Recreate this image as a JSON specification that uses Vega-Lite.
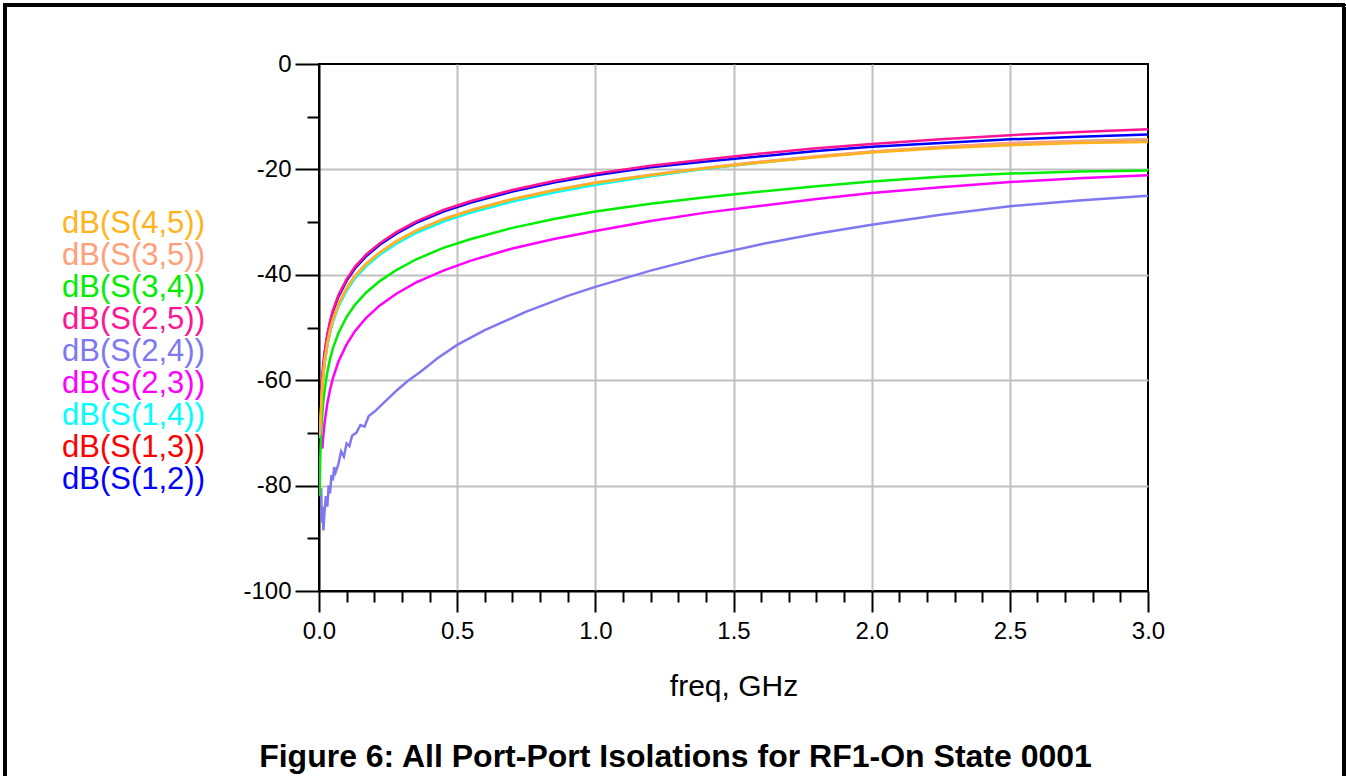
{
  "$schema": "https://vega.github.io/schema/vega-lite/v6.json",
  "width": 829,
  "height": 527,
  "autosize": {"type": "none"},
  "padding": {"left": 319, "top": 64, "right": 198, "bottom": 185},
  "background": "white",
  "config": {"font": "Liberation Sans", "view": {"stroke": "black", "strokeWidth": 2}},
  "title": {"text": "Figure 6: All Port-Port Isolations for RF1-On State 0001", "orient": "bottom", "anchor": "middle", "fontSize": 32, "fontWeight": "bold", "font": "Liberation Sans", "color": "black", "offset": -60, "dx": -58},
  "data": {"values": [
    {"s":"dB(S(1,2))","f":0.008,"v":-63.0},{"s":"dB(S(1,2))","f":0.01,"v":-61.1},{"s":"dB(S(1,2))","f":0.015,"v":-57.6},{"s":"dB(S(1,2))","f":0.02,"v":-55.1},{"s":"dB(S(1,2))","f":0.03,"v":-51.6},{"s":"dB(S(1,2))","f":0.04,"v":-49.1},{"s":"dB(S(1,2))","f":0.05,"v":-47.1},{"s":"dB(S(1,2))","f":0.07,"v":-44.2},{"s":"dB(S(1,2))","f":0.1,"v":-41.1},{"s":"dB(S(1,2))","f":0.13,"v":-38.8},{"s":"dB(S(1,2))","f":0.17,"v":-36.5},{"s":"dB(S(1,2))","f":0.22,"v":-34.3},{"s":"dB(S(1,2))","f":0.28,"v":-32.2},{"s":"dB(S(1,2))","f":0.35,"v":-30.2},{"s":"dB(S(1,2))","f":0.45,"v":-28.0},{"s":"dB(S(1,2))","f":0.55,"v":-26.3},{"s":"dB(S(1,2))","f":0.7,"v":-24.2},{"s":"dB(S(1,2))","f":0.85,"v":-22.5},{"s":"dB(S(1,2))","f":1.0,"v":-21.1},{"s":"dB(S(1,2))","f":1.2,"v":-19.6},{"s":"dB(S(1,2))","f":1.4,"v":-18.5},{"s":"dB(S(1,2))","f":1.6,"v":-17.5},{"s":"dB(S(1,2))","f":1.8,"v":-16.5},{"s":"dB(S(1,2))","f":2.0,"v":-15.7},{"s":"dB(S(1,2))","f":2.25,"v":-15.0},{"s":"dB(S(1,2))","f":2.5,"v":-14.3},{"s":"dB(S(1,2))","f":2.75,"v":-13.8},{"s":"dB(S(1,2))","f":3.0,"v":-13.4},
    {"s":"dB(S(1,3))","f":0.006,"v":-67.5},{"s":"dB(S(1,3))","f":0.01,"v":-62.8},{"s":"dB(S(1,3))","f":0.015,"v":-59.3},{"s":"dB(S(1,3))","f":0.02,"v":-56.8},{"s":"dB(S(1,3))","f":0.03,"v":-53.3},{"s":"dB(S(1,3))","f":0.04,"v":-50.8},{"s":"dB(S(1,3))","f":0.05,"v":-48.8},{"s":"dB(S(1,3))","f":0.07,"v":-45.9},{"s":"dB(S(1,3))","f":0.1,"v":-42.8},{"s":"dB(S(1,3))","f":0.13,"v":-40.5},{"s":"dB(S(1,3))","f":0.17,"v":-38.2},{"s":"dB(S(1,3))","f":0.22,"v":-36.0},{"s":"dB(S(1,3))","f":0.28,"v":-33.9},{"s":"dB(S(1,3))","f":0.35,"v":-31.9},{"s":"dB(S(1,3))","f":0.45,"v":-29.7},{"s":"dB(S(1,3))","f":0.55,"v":-28.0},{"s":"dB(S(1,3))","f":0.7,"v":-25.9},{"s":"dB(S(1,3))","f":0.85,"v":-24.2},{"s":"dB(S(1,3))","f":1.0,"v":-22.8},{"s":"dB(S(1,3))","f":1.2,"v":-21.2},{"s":"dB(S(1,3))","f":1.4,"v":-19.8},{"s":"dB(S(1,3))","f":1.6,"v":-18.6},{"s":"dB(S(1,3))","f":1.8,"v":-17.6},{"s":"dB(S(1,3))","f":2.0,"v":-16.7},{"s":"dB(S(1,3))","f":2.25,"v":-15.8},{"s":"dB(S(1,3))","f":2.5,"v":-15.1},{"s":"dB(S(1,3))","f":2.75,"v":-14.7},{"s":"dB(S(1,3))","f":3.0,"v":-14.4},
    {"s":"dB(S(1,4))","f":0.004,"v":-71.0},{"s":"dB(S(1,4))","f":0.01,"v":-63.0},{"s":"dB(S(1,4))","f":0.015,"v":-59.5},{"s":"dB(S(1,4))","f":0.02,"v":-57.0},{"s":"dB(S(1,4))","f":0.03,"v":-53.5},{"s":"dB(S(1,4))","f":0.04,"v":-51.0},{"s":"dB(S(1,4))","f":0.05,"v":-49.0},{"s":"dB(S(1,4))","f":0.07,"v":-46.1},{"s":"dB(S(1,4))","f":0.1,"v":-43.0},{"s":"dB(S(1,4))","f":0.13,"v":-40.7},{"s":"dB(S(1,4))","f":0.17,"v":-38.4},{"s":"dB(S(1,4))","f":0.22,"v":-36.2},{"s":"dB(S(1,4))","f":0.28,"v":-34.1},{"s":"dB(S(1,4))","f":0.35,"v":-32.1},{"s":"dB(S(1,4))","f":0.45,"v":-29.9},{"s":"dB(S(1,4))","f":0.55,"v":-28.2},{"s":"dB(S(1,4))","f":0.7,"v":-26.1},{"s":"dB(S(1,4))","f":0.85,"v":-24.4},{"s":"dB(S(1,4))","f":1.0,"v":-22.9},{"s":"dB(S(1,4))","f":1.2,"v":-21.3},{"s":"dB(S(1,4))","f":1.4,"v":-19.9},{"s":"dB(S(1,4))","f":1.6,"v":-18.7},{"s":"dB(S(1,4))","f":1.8,"v":-17.6},{"s":"dB(S(1,4))","f":2.0,"v":-16.7},{"s":"dB(S(1,4))","f":2.25,"v":-15.8},{"s":"dB(S(1,4))","f":2.5,"v":-15.1},{"s":"dB(S(1,4))","f":2.75,"v":-14.6},{"s":"dB(S(1,4))","f":3.0,"v":-14.3},
    {"s":"dB(S(2,3))","f":0.012,"v":-73.0},{"s":"dB(S(2,3))","f":0.015,"v":-70.9},{"s":"dB(S(2,3))","f":0.02,"v":-68.2},{"s":"dB(S(2,3))","f":0.03,"v":-64.4},{"s":"dB(S(2,3))","f":0.04,"v":-61.8},{"s":"dB(S(2,3))","f":0.05,"v":-59.7},{"s":"dB(S(2,3))","f":0.07,"v":-56.5},{"s":"dB(S(2,3))","f":0.1,"v":-53.2},{"s":"dB(S(2,3))","f":0.13,"v":-50.7},{"s":"dB(S(2,3))","f":0.17,"v":-48.2},{"s":"dB(S(2,3))","f":0.22,"v":-45.8},{"s":"dB(S(2,3))","f":0.28,"v":-43.6},{"s":"dB(S(2,3))","f":0.35,"v":-41.5},{"s":"dB(S(2,3))","f":0.45,"v":-39.2},{"s":"dB(S(2,3))","f":0.55,"v":-37.3},{"s":"dB(S(2,3))","f":0.7,"v":-35.0},{"s":"dB(S(2,3))","f":0.85,"v":-33.2},{"s":"dB(S(2,3))","f":1.0,"v":-31.7},{"s":"dB(S(2,3))","f":1.2,"v":-29.8},{"s":"dB(S(2,3))","f":1.4,"v":-28.2},{"s":"dB(S(2,3))","f":1.6,"v":-26.9},{"s":"dB(S(2,3))","f":1.8,"v":-25.6},{"s":"dB(S(2,3))","f":2.0,"v":-24.5},{"s":"dB(S(2,3))","f":2.25,"v":-23.4},{"s":"dB(S(2,3))","f":2.5,"v":-22.4},{"s":"dB(S(2,3))","f":2.75,"v":-21.7},{"s":"dB(S(2,3))","f":3.0,"v":-21.1},
    {"s":"dB(S(2,4))","f":0.008,"v":-80.5},{"s":"dB(S(2,4))","f":0.01,"v":-87.0},{"s":"dB(S(2,4))","f":0.013,"v":-84.0},{"s":"dB(S(2,4))","f":0.016,"v":-88.5},{"s":"dB(S(2,4))","f":0.02,"v":-85.0},{"s":"dB(S(2,4))","f":0.025,"v":-82.0},{"s":"dB(S(2,4))","f":0.03,"v":-84.0},{"s":"dB(S(2,4))","f":0.035,"v":-80.0},{"s":"dB(S(2,4))","f":0.04,"v":-81.5},{"s":"dB(S(2,4))","f":0.045,"v":-78.0},{"s":"dB(S(2,4))","f":0.05,"v":-79.0},{"s":"dB(S(2,4))","f":0.055,"v":-76.5},{"s":"dB(S(2,4))","f":0.06,"v":-77.5},{"s":"dB(S(2,4))","f":0.07,"v":-76.0},{"s":"dB(S(2,4))","f":0.08,"v":-73.5},{"s":"dB(S(2,4))","f":0.09,"v":-74.5},{"s":"dB(S(2,4))","f":0.1,"v":-72.0},{"s":"dB(S(2,4))","f":0.11,"v":-72.5},{"s":"dB(S(2,4))","f":0.12,"v":-70.5},{"s":"dB(S(2,4))","f":0.135,"v":-70.0},{"s":"dB(S(2,4))","f":0.15,"v":-68.5},{"s":"dB(S(2,4))","f":0.165,"v":-68.8},{"s":"dB(S(2,4))","f":0.18,"v":-66.8},{"s":"dB(S(2,4))","f":0.2,"v":-66.0},{"s":"dB(S(2,4))","f":0.22,"v":-65.0},{"s":"dB(S(2,4))","f":0.25,"v":-63.5},{"s":"dB(S(2,4))","f":0.28,"v":-62.0},{"s":"dB(S(2,4))","f":0.32,"v":-60.2},{"s":"dB(S(2,4))","f":0.37,"v":-58.3},{"s":"dB(S(2,4))","f":0.43,"v":-55.8},{"s":"dB(S(2,4))","f":0.5,"v":-53.3},{"s":"dB(S(2,4))","f":0.6,"v":-50.5},{"s":"dB(S(2,4))","f":0.75,"v":-47.0},{"s":"dB(S(2,4))","f":0.9,"v":-44.0},{"s":"dB(S(2,4))","f":1.0,"v":-42.3},{"s":"dB(S(2,4))","f":1.2,"v":-39.2},{"s":"dB(S(2,4))","f":1.4,"v":-36.5},{"s":"dB(S(2,4))","f":1.6,"v":-34.2},{"s":"dB(S(2,4))","f":1.8,"v":-32.2},{"s":"dB(S(2,4))","f":2.0,"v":-30.5},{"s":"dB(S(2,4))","f":2.25,"v":-28.6},{"s":"dB(S(2,4))","f":2.5,"v":-27.0},{"s":"dB(S(2,4))","f":2.75,"v":-25.9},{"s":"dB(S(2,4))","f":3.0,"v":-25.0},
    {"s":"dB(S(2,5))","f":0.008,"v":-62.7},{"s":"dB(S(2,5))","f":0.01,"v":-60.8},{"s":"dB(S(2,5))","f":0.015,"v":-57.3},{"s":"dB(S(2,5))","f":0.02,"v":-54.8},{"s":"dB(S(2,5))","f":0.03,"v":-51.3},{"s":"dB(S(2,5))","f":0.04,"v":-48.8},{"s":"dB(S(2,5))","f":0.05,"v":-46.8},{"s":"dB(S(2,5))","f":0.07,"v":-43.9},{"s":"dB(S(2,5))","f":0.1,"v":-40.8},{"s":"dB(S(2,5))","f":0.13,"v":-38.5},{"s":"dB(S(2,5))","f":0.17,"v":-36.2},{"s":"dB(S(2,5))","f":0.22,"v":-34.0},{"s":"dB(S(2,5))","f":0.28,"v":-31.9},{"s":"dB(S(2,5))","f":0.35,"v":-29.9},{"s":"dB(S(2,5))","f":0.45,"v":-27.7},{"s":"dB(S(2,5))","f":0.55,"v":-26.0},{"s":"dB(S(2,5))","f":0.7,"v":-23.9},{"s":"dB(S(2,5))","f":0.85,"v":-22.2},{"s":"dB(S(2,5))","f":1.0,"v":-20.8},{"s":"dB(S(2,5))","f":1.2,"v":-19.3},{"s":"dB(S(2,5))","f":1.4,"v":-18.1},{"s":"dB(S(2,5))","f":1.6,"v":-17.0},{"s":"dB(S(2,5))","f":1.8,"v":-16.0},{"s":"dB(S(2,5))","f":2.0,"v":-15.2},{"s":"dB(S(2,5))","f":2.25,"v":-14.3},{"s":"dB(S(2,5))","f":2.5,"v":-13.5},{"s":"dB(S(2,5))","f":2.75,"v":-12.9},{"s":"dB(S(2,5))","f":3.0,"v":-12.4},
    {"s":"dB(S(3,4))","f":0.002,"v":-82.0},{"s":"dB(S(3,4))","f":0.004,"v":-76.0},{"s":"dB(S(3,4))","f":0.006,"v":-72.4},{"s":"dB(S(3,4))","f":0.01,"v":-68.0},{"s":"dB(S(3,4))","f":0.015,"v":-64.5},{"s":"dB(S(3,4))","f":0.02,"v":-62.0},{"s":"dB(S(3,4))","f":0.03,"v":-58.5},{"s":"dB(S(3,4))","f":0.04,"v":-56.0},{"s":"dB(S(3,4))","f":0.05,"v":-54.0},{"s":"dB(S(3,4))","f":0.07,"v":-51.1},{"s":"dB(S(3,4))","f":0.1,"v":-48.0},{"s":"dB(S(3,4))","f":0.13,"v":-45.7},{"s":"dB(S(3,4))","f":0.17,"v":-43.4},{"s":"dB(S(3,4))","f":0.22,"v":-41.2},{"s":"dB(S(3,4))","f":0.28,"v":-39.1},{"s":"dB(S(3,4))","f":0.35,"v":-37.1},{"s":"dB(S(3,4))","f":0.45,"v":-34.9},{"s":"dB(S(3,4))","f":0.55,"v":-33.2},{"s":"dB(S(3,4))","f":0.7,"v":-31.1},{"s":"dB(S(3,4))","f":0.85,"v":-29.4},{"s":"dB(S(3,4))","f":1.0,"v":-28.0},{"s":"dB(S(3,4))","f":1.2,"v":-26.5},{"s":"dB(S(3,4))","f":1.4,"v":-25.3},{"s":"dB(S(3,4))","f":1.6,"v":-24.2},{"s":"dB(S(3,4))","f":1.8,"v":-23.2},{"s":"dB(S(3,4))","f":2.0,"v":-22.3},{"s":"dB(S(3,4))","f":2.25,"v":-21.4},{"s":"dB(S(3,4))","f":2.5,"v":-20.8},{"s":"dB(S(3,4))","f":2.75,"v":-20.4},{"s":"dB(S(3,4))","f":3.0,"v":-20.2},
    {"s":"dB(S(3,5))","f":0.004,"v":-70.5},{"s":"dB(S(3,5))","f":0.01,"v":-62.5},{"s":"dB(S(3,5))","f":0.015,"v":-59.0},{"s":"dB(S(3,5))","f":0.02,"v":-56.5},{"s":"dB(S(3,5))","f":0.03,"v":-53.0},{"s":"dB(S(3,5))","f":0.04,"v":-50.5},{"s":"dB(S(3,5))","f":0.05,"v":-48.5},{"s":"dB(S(3,5))","f":0.07,"v":-45.6},{"s":"dB(S(3,5))","f":0.1,"v":-42.5},{"s":"dB(S(3,5))","f":0.13,"v":-40.2},{"s":"dB(S(3,5))","f":0.17,"v":-37.9},{"s":"dB(S(3,5))","f":0.22,"v":-35.7},{"s":"dB(S(3,5))","f":0.28,"v":-33.6},{"s":"dB(S(3,5))","f":0.35,"v":-31.6},{"s":"dB(S(3,5))","f":0.45,"v":-29.4},{"s":"dB(S(3,5))","f":0.55,"v":-27.7},{"s":"dB(S(3,5))","f":0.7,"v":-25.6},{"s":"dB(S(3,5))","f":0.85,"v":-23.9},{"s":"dB(S(3,5))","f":1.0,"v":-22.5},{"s":"dB(S(3,5))","f":1.2,"v":-21.0},{"s":"dB(S(3,5))","f":1.4,"v":-19.7},{"s":"dB(S(3,5))","f":1.6,"v":-18.5},{"s":"dB(S(3,5))","f":1.8,"v":-17.5},{"s":"dB(S(3,5))","f":2.0,"v":-16.6},{"s":"dB(S(3,5))","f":2.25,"v":-15.7},{"s":"dB(S(3,5))","f":2.5,"v":-15.0},{"s":"dB(S(3,5))","f":2.75,"v":-14.6},{"s":"dB(S(3,5))","f":3.0,"v":-14.3},
    {"s":"dB(S(4,5))","f":0.005,"v":-68.6},{"s":"dB(S(4,5))","f":0.008,"v":-64.5},{"s":"dB(S(4,5))","f":0.01,"v":-62.6},{"s":"dB(S(4,5))","f":0.015,"v":-59.1},{"s":"dB(S(4,5))","f":0.02,"v":-56.6},{"s":"dB(S(4,5))","f":0.03,"v":-53.1},{"s":"dB(S(4,5))","f":0.04,"v":-50.6},{"s":"dB(S(4,5))","f":0.05,"v":-48.6},{"s":"dB(S(4,5))","f":0.07,"v":-45.7},{"s":"dB(S(4,5))","f":0.1,"v":-42.6},{"s":"dB(S(4,5))","f":0.13,"v":-40.3},{"s":"dB(S(4,5))","f":0.17,"v":-38.0},{"s":"dB(S(4,5))","f":0.22,"v":-35.8},{"s":"dB(S(4,5))","f":0.28,"v":-33.7},{"s":"dB(S(4,5))","f":0.35,"v":-31.7},{"s":"dB(S(4,5))","f":0.45,"v":-29.5},{"s":"dB(S(4,5))","f":0.55,"v":-27.8},{"s":"dB(S(4,5))","f":0.7,"v":-25.7},{"s":"dB(S(4,5))","f":0.85,"v":-24.0},{"s":"dB(S(4,5))","f":1.0,"v":-22.6},{"s":"dB(S(4,5))","f":1.2,"v":-21.1},{"s":"dB(S(4,5))","f":1.4,"v":-19.8},{"s":"dB(S(4,5))","f":1.6,"v":-18.7},{"s":"dB(S(4,5))","f":1.8,"v":-17.7},{"s":"dB(S(4,5))","f":2.0,"v":-16.8},{"s":"dB(S(4,5))","f":2.25,"v":-16.0},{"s":"dB(S(4,5))","f":2.5,"v":-15.4},{"s":"dB(S(4,5))","f":2.75,"v":-15.0},{"s":"dB(S(4,5))","f":3.0,"v":-14.8}
  ]},
  "encoding": {
    "x": {
      "field": "f", "type": "quantitative",
      "scale": {"domain": [0, 3], "nice": false, "zero": false},
      "axis": {
        "title": "freq, GHz",
        "values": [0,0.1,0.2,0.3,0.4,0.5,0.6,0.7,0.8,0.9,1,1.1,1.2,1.3,1.4,1.5,1.6,1.7,1.8,1.9,2,2.1,2.2,2.3,2.4,2.5,2.6,2.7,2.8,2.9,3],
        "labelExpr": "abs(datum.value*2-round(datum.value*2))<0.001 ? format(datum.value,'.1f') : ''",
        "tickSize": {"condition": {"test": "abs(datum.value*2-round(datum.value*2))<0.001", "value": 21}, "value": 11},
        "tickColor": "black", "tickWidth": 2,
        "domainColor": "black", "domainWidth": 2,
        "grid": true, "gridColor": "#c0c0c0", "gridWidth": 2,
        "gridOpacity": {"condition": {"test": "abs(datum.value*2-round(datum.value*2))<0.001 && datum.value>0.01 && datum.value<2.99", "value": 1}, "value": 0},
        "labelFontSize": 24, "labelColor": "black", "labelPadding": 7,
        "labelFlush": false, "labelOverlap": false, "labelBound": false,
        "titleFontSize": 30, "titleFontWeight": "normal", "titleColor": "black",
        "titleY": 104, "titleBaseline": "alphabetic"
      }
    },
    "y": {
      "field": "v", "type": "quantitative",
      "scale": {"domain": [-100, 0], "nice": false, "zero": false},
      "axis": {
        "title": null,
        "values": [-100,-90,-80,-70,-60,-50,-40,-30,-20,-10,0],
        "labelExpr": "datum.value % 20 == 0 ? '' + datum.value : ''",
        "tickSize": {"condition": {"test": "datum.value % 20 == 0", "value": 24}, "value": 12},
        "tickColor": "black", "tickWidth": 2,
        "domainColor": "black", "domainWidth": 2,
        "grid": true, "gridColor": "#c0c0c0", "gridWidth": 2,
        "gridOpacity": {"condition": {"test": "datum.value % 20 == 0 && datum.value > -99 && datum.value < -1", "value": 1}, "value": 0},
        "labelFontSize": 24, "labelColor": "black", "labelPadding": 4,
        "labelFlush": false, "labelOverlap": false, "labelBound": false
      }
    }
  },
  "layer": [
    {
      "mark": {"type": "rect", "fill": null, "fillOpacity": 0, "stroke": "black", "strokeWidth": 3, "clip": false},
      "encoding": {
        "x": {"datum": -1.1363, "type": "quantitative"},
        "x2": {"datum": 3.7075},
        "y": {"datum": 11.2, "type": "quantitative"},
        "y2": {"datum": -139.7}
      }
    },
    {
      "mark": {"type": "line", "strokeWidth": 2.5, "clip": true},
      "encoding": {
        "color": {
          "field": "s", "type": "nominal",
          "scale": {
            "domain": ["dB(S(4,5))","dB(S(3,5))","dB(S(3,4))","dB(S(2,5))","dB(S(2,4))","dB(S(2,3))","dB(S(1,4))","dB(S(1,3))","dB(S(1,2))"],
            "range": ["#FFB41E","#FFA07A","#00EE00","#FF1493","#8078F0","#FF00FF","#00FFFF","#FF0000","#0000FF"]
          },
          "legend": {
            "title": null, "orient": "none", "legendX": -288, "legendY": 144,
            "symbolType": "circle", "symbolSize": 0, "symbolStrokeWidth": 0, "symbolOpacity": 0,
            "labelFontSize": 31, "labelOffset": 0, "rowPadding": 0, "padding": 0, "labelLimit": 400,
            "labelFont": "Liberation Sans",
            "encode": {"labels": {"update": {"fill": {"scale": "color", "field": "value"}}}}
          }
        }
      }
    }
  ]
}
